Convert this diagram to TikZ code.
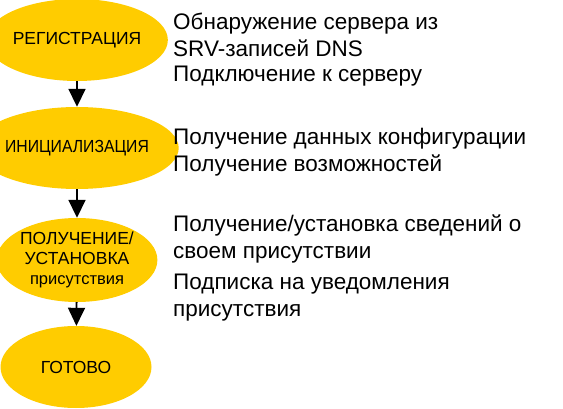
\documentclass[tikz,border=0pt]{standalone}
\usepackage{fontspec}
\setmainfont{Liberation Sans}
\usetikzlibrary{arrows.meta,shapes.geometric}
\definecolor{gelb}{HTML}{FFCC00}
\tikzset{
  phase/.style={ellipse,fill=gelb,inner sep=0pt,minimum width=151pt,minimum height=82pt,
    align=center,font=\fontsize{17.5}{20}\selectfont},
  pfeil/.style={-{Triangle[length=18pt,width=17pt]},black,line width=1.8pt},
  schritt/.style={anchor=west,align=left,inner sep=0pt,font=\fontsize{22.5}{27}\selectfont},
}
\begin{document}
\begin{tikzpicture}[x=1pt,y=-1pt]
  \useasboundingbox (0,0) rectangle (563,409);
  % Phasen
  \node[phase] (reg) at (77,40) {РЕГИСТРАЦИЯ};
  \node[phase] (init) at (77,148) {\scalebox{0.9}[1]{ИНИЦИАЛИЗАЦИЯ}};
  \node[phase,minimum height=84pt] (pres) at (77,260)
    {ПОЛУЧЕНИЕ/\\УСТАНОВКА\\{\fontsize{16.5}{20}\selectfont присутствия}};
  \node[phase] (fertig) at (76,367) {ГОТОВО};
  \draw[pfeil] (reg) -- (init);
  \draw[pfeil] (init) -- (pres);
  \draw[pfeil] (pres) -- (fertig);
  % Schritte
  \node[schritt] (s1) at (173,34.5) {Обнаружение сервера из\\SRV-записей DNS};
  \node[schritt] (s2) at (173,76) {Подключение к серверу};
  \node[schritt] (s3) at (173,139) {Получение данных конфигурации};
  \node[schritt] (s4) at (173,165) {Получение возможностей};
  \node[schritt] (s5) at (173,238.5) {Получение/установка сведений о\\своем присутствии};
  \node[schritt] (s6) at (173,297.5) {Подписка на уведомления\\присутствия};
\end{tikzpicture}
\end{document}
